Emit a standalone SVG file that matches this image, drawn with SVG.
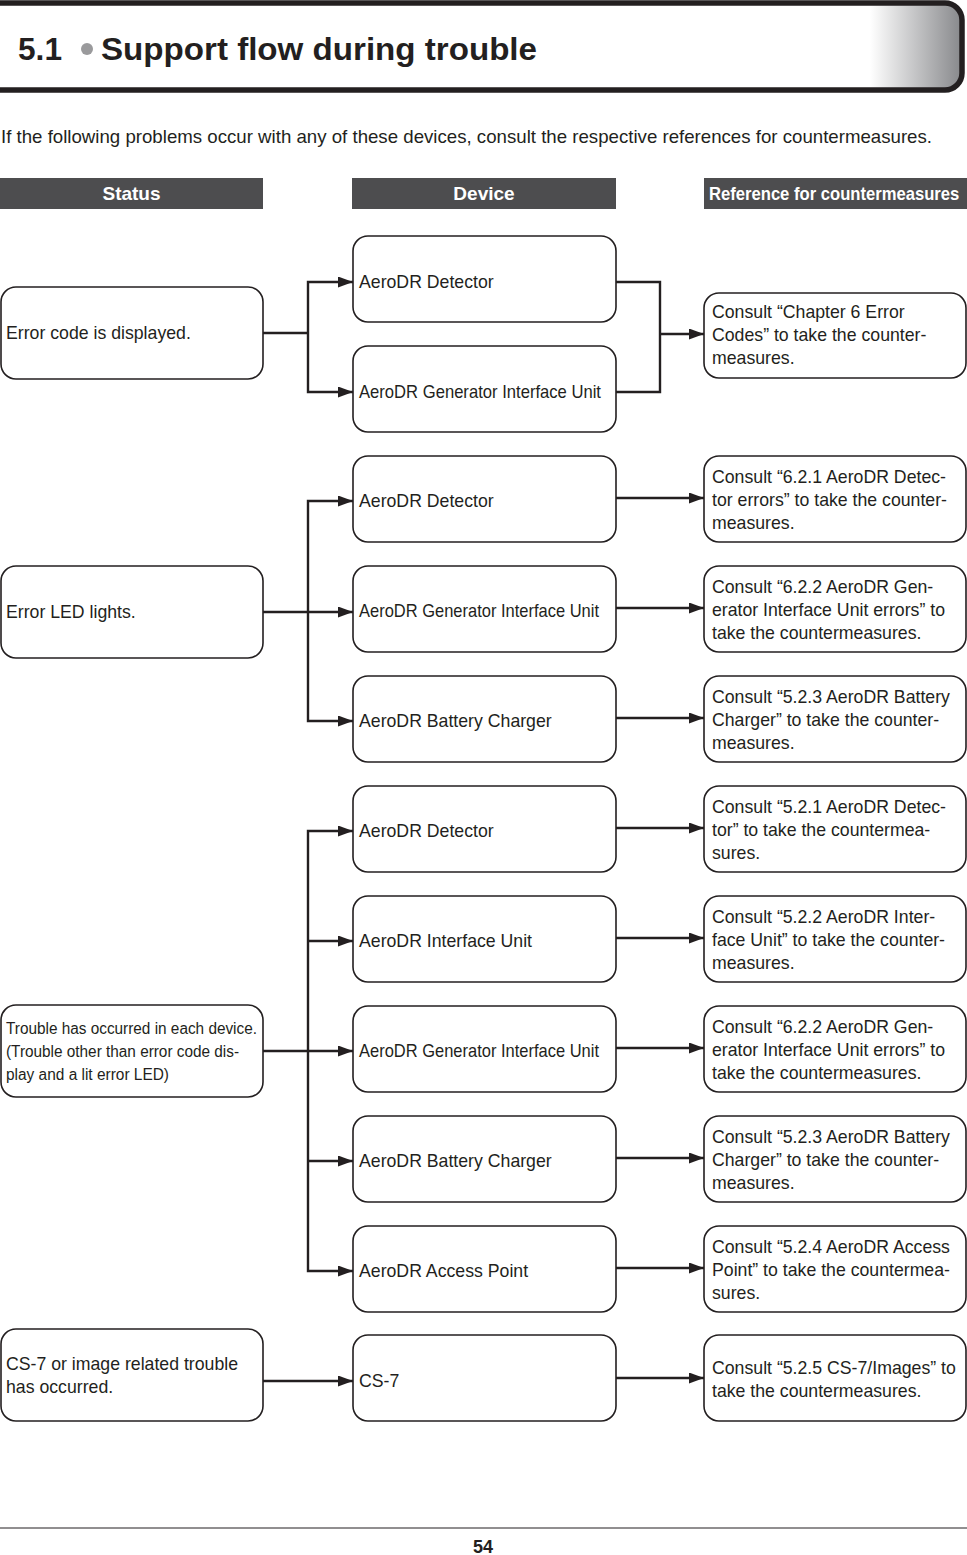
<svg xmlns="http://www.w3.org/2000/svg" width="967" height="1555" viewBox="0 0 967 1555">
<style>
.box{fill:#fff;stroke:#231f20;stroke-width:1.6}
.t{font-family:"Liberation Sans",Arial,sans-serif;font-size:17.7px;fill:#231f20}
.tc{font-family:"Liberation Sans",Arial,sans-serif;font-size:16px;fill:#231f20}
.hd{font-family:"Liberation Sans",Arial,sans-serif;font-size:19px;font-weight:bold;fill:#fff}
.bar{fill:#4d4d4f}
.ln{fill:none;stroke:#231f20;stroke-width:2.4}
.arr{fill:none;stroke:#231f20;stroke-width:2.4;marker-end:url(#ah)}
</style>
<defs>
<marker id="ah" markerUnits="userSpaceOnUse" markerWidth="16" markerHeight="12" refX="15" refY="5.5" orient="auto">
<path d="M0,0 L15,5.5 L0,11 z" fill="#231f20"/>
</marker>
<linearGradient id="hg" gradientUnits="userSpaceOnUse" x1="870" y1="0" x2="962" y2="0">
<stop offset="0" stop-color="#ffffff"/>
<stop offset="1" stop-color="#87888b"/>
</linearGradient>
</defs>
<rect width="967" height="1555" fill="#fff"/>

<g id="header">
<rect x="-20" y="3" width="982" height="87" rx="17" fill="url(#hg)" stroke="#231f20" stroke-width="5.5"/>
<text x="18" y="60" font-family="'Liberation Sans',Arial,sans-serif" font-size="31" font-weight="bold" fill="#231f20" textLength="44" lengthAdjust="spacingAndGlyphs">5.1</text>
<circle cx="87" cy="49" r="6" fill="#9a9a9c"/>
<text x="101" y="60" font-family="'Liberation Sans',Arial,sans-serif" font-size="31" font-weight="bold" fill="#231f20" textLength="436" lengthAdjust="spacingAndGlyphs">Support flow during trouble</text>
</g>

<text class="t" x="1" y="143" textLength="931" lengthAdjust="spacingAndGlyphs">If the following problems occur with any of these devices, consult the respective references for countermeasures.</text>

<g id="col-heads">
<rect class="bar" x="0" y="178" width="263" height="31"/>
<text class="hd" x="131.5" y="200" text-anchor="middle">Status</text>
<rect class="bar" x="352" y="178" width="264" height="31"/>
<text class="hd" x="484" y="200" text-anchor="middle">Device</text>
<rect class="bar" x="704" y="178" width="263" height="31"/>
<text class="hd" transform="translate(709,200) scale(0.875,1)" x="0" y="0">Reference for countermeasures</text>
</g>

<g id="connectors">
<path class="ln" d="M263,333 H308" stroke-width="4"/>
<path class="arr" d="M308,333 V282 H353"/>
<path class="arr" d="M308,333 V392 H353"/>
<path class="ln" d="M616,282 H660 V392 H616"/>
<path class="arr" d="M660,334 H704"/>

<path class="arr" d="M263,612 H353"/>
<path class="arr" d="M308,612 V501 H353"/>
<path class="arr" d="M308,612 V721 H353"/>
<path class="arr" d="M616,498 H704"/>
<path class="arr" d="M616,608 H704"/>
<path class="arr" d="M616,718 H704"/>

<path class="arr" d="M263,1051 H353"/>
<path class="arr" d="M308,1051 V831 H353"/>
<path class="arr" d="M308,941 H353"/>
<path class="arr" d="M308,1051 V1271 H353"/>
<path class="arr" d="M308,1161 H353"/>
<path class="arr" d="M616,828 H704"/>
<path class="arr" d="M616,938 H704"/>
<path class="arr" d="M616,1048 H704"/>
<path class="arr" d="M616,1158 H704"/>
<path class="arr" d="M616,1268 H704"/>

<path class="arr" d="M263,1381 H353"/>
<path class="arr" d="M616,1378 H704"/>
</g>

<g id="s1"><rect class="box" x="1" y="287" width="262" height="92" rx="15"/><text class="t" x="6" y="339">Error code is displayed.</text></g>
<g id="s2"><rect class="box" x="1" y="566" width="262" height="92" rx="15"/><text class="t" x="6" y="618">Error LED lights.</text></g>
<g id="s3"><rect class="box" x="1" y="1005" width="262" height="92" rx="15"/>
<text class="tc" x="6" y="1034" textLength="251" lengthAdjust="spacingAndGlyphs">Trouble has occurred in each device.</text>
<text class="tc" x="6" y="1057" textLength="233" lengthAdjust="spacingAndGlyphs">(Trouble other than error code dis-</text>
<text class="tc" x="6" y="1080" textLength="163" lengthAdjust="spacingAndGlyphs">play and a lit error LED)</text></g>
<g id="s4"><rect class="box" x="1" y="1329" width="262" height="92" rx="15"/>
<text class="t" x="6" y="1370">CS-7 or image related trouble</text>
<text class="t" x="6" y="1393">has occurred.</text></g>

<g id="d1"><rect class="box" x="353" y="236" width="263" height="86" rx="15"/><text class="t" x="359" y="288">AeroDR Detector</text></g>
<g id="d2"><rect class="box" x="353" y="346" width="263" height="86" rx="15"/><text class="t" x="359" y="398" textLength="242" lengthAdjust="spacingAndGlyphs">AeroDR Generator Interface Unit</text></g>
<g id="d3"><rect class="box" x="353" y="456" width="263" height="86" rx="15"/><text class="t" x="359" y="507">AeroDR Detector</text></g>
<g id="d4"><rect class="box" x="353" y="566" width="263" height="86" rx="15"/><text class="t" x="359" y="617" textLength="240" lengthAdjust="spacingAndGlyphs">AeroDR Generator Interface Unit</text></g>
<g id="d5"><rect class="box" x="353" y="676" width="263" height="86" rx="15"/><text class="t" x="359" y="727">AeroDR Battery Charger</text></g>
<g id="d6"><rect class="box" x="353" y="786" width="263" height="86" rx="15"/><text class="t" x="359" y="837">AeroDR Detector</text></g>
<g id="d7"><rect class="box" x="353" y="896" width="263" height="86" rx="15"/><text class="t" x="359" y="947">AeroDR Interface Unit</text></g>
<g id="d8"><rect class="box" x="353" y="1006" width="263" height="86" rx="15"/><text class="t" x="359" y="1057" textLength="240" lengthAdjust="spacingAndGlyphs">AeroDR Generator Interface Unit</text></g>
<g id="d9"><rect class="box" x="353" y="1116" width="263" height="86" rx="15"/><text class="t" x="359" y="1167">AeroDR Battery Charger</text></g>
<g id="d10"><rect class="box" x="353" y="1226" width="263" height="86" rx="15"/><text class="t" x="359" y="1277">AeroDR Access Point</text></g>
<g id="d11"><rect class="box" x="353" y="1335" width="263" height="86" rx="15"/><text class="t" x="359" y="1387">CS-7</text></g>

<g id="r1"><rect class="box" x="704" y="293" width="262" height="85" rx="15"/>
<text class="t" x="712" y="318">Consult “Chapter 6 Error</text>
<text class="t" x="712" y="341">Codes” to take the counter-</text>
<text class="t" x="712" y="364">measures.</text></g>
<g id="r2"><rect class="box" x="704" y="456" width="262" height="86" rx="15"/>
<text class="t" x="712" y="483">Consult “6.2.1 AeroDR Detec-</text>
<text class="t" x="712" y="506">tor errors” to take the counter-</text>
<text class="t" x="712" y="529">measures.</text></g>
<g id="r3"><rect class="box" x="704" y="566" width="262" height="86" rx="15"/>
<text class="t" x="712" y="593">Consult “6.2.2 AeroDR Gen-</text>
<text class="t" x="712" y="616">erator Interface Unit errors” to</text>
<text class="t" x="712" y="639">take the countermeasures.</text></g>
<g id="r4"><rect class="box" x="704" y="676" width="262" height="86" rx="15"/>
<text class="t" x="712" y="703">Consult “5.2.3 AeroDR Battery</text>
<text class="t" x="712" y="726">Charger” to take the counter-</text>
<text class="t" x="712" y="749">measures.</text></g>
<g id="r5"><rect class="box" x="704" y="786" width="262" height="86" rx="15"/>
<text class="t" x="712" y="813">Consult “5.2.1 AeroDR Detec-</text>
<text class="t" x="712" y="836">tor” to take the countermea-</text>
<text class="t" x="712" y="859">sures.</text></g>
<g id="r6"><rect class="box" x="704" y="896" width="262" height="86" rx="15"/>
<text class="t" x="712" y="923">Consult “5.2.2 AeroDR Inter-</text>
<text class="t" x="712" y="946">face Unit” to take the counter-</text>
<text class="t" x="712" y="969">measures.</text></g>
<g id="r7"><rect class="box" x="704" y="1006" width="262" height="86" rx="15"/>
<text class="t" x="712" y="1033">Consult “6.2.2 AeroDR Gen-</text>
<text class="t" x="712" y="1056">erator Interface Unit errors” to</text>
<text class="t" x="712" y="1079">take the countermeasures.</text></g>
<g id="r8"><rect class="box" x="704" y="1116" width="262" height="86" rx="15"/>
<text class="t" x="712" y="1143">Consult “5.2.3 AeroDR Battery</text>
<text class="t" x="712" y="1166">Charger” to take the counter-</text>
<text class="t" x="712" y="1189">measures.</text></g>
<g id="r9"><rect class="box" x="704" y="1226" width="262" height="86" rx="15"/>
<text class="t" x="712" y="1253">Consult “5.2.4 AeroDR Access</text>
<text class="t" x="712" y="1276">Point” to take the countermea-</text>
<text class="t" x="712" y="1299">sures.</text></g>
<g id="r10"><rect class="box" x="704" y="1335" width="262" height="86" rx="15"/>
<text class="t" x="712" y="1374">Consult “5.2.5 CS-7/Images” to</text>
<text class="t" x="712" y="1397">take the countermeasures.</text></g>

<g id="footer">
<line x1="0" y1="1528" x2="967" y2="1528" stroke="#231f20" stroke-width="1"/>
<text x="483" y="1553" text-anchor="middle" font-family="'Liberation Sans',Arial,sans-serif" font-size="18" font-weight="bold" fill="#231f20">54</text>
</g>
</svg>
